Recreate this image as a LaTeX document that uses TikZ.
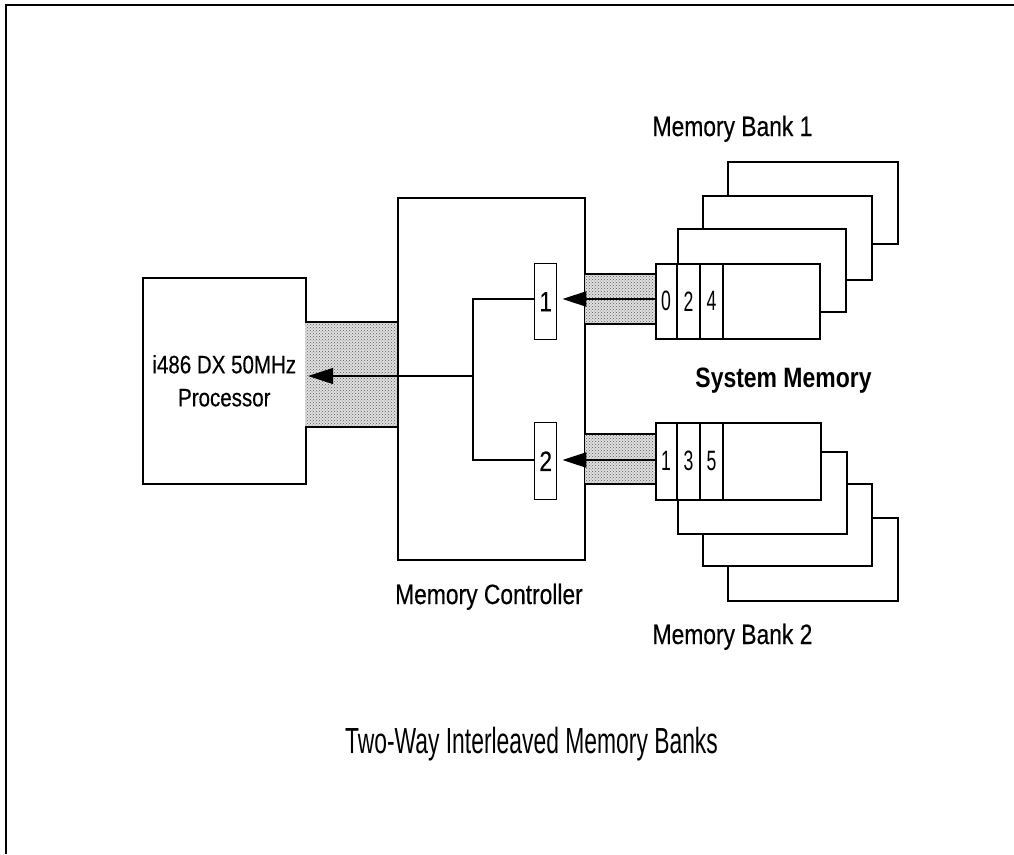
\documentclass[tikz,border=0pt]{standalone}
\usepackage{fontspec}
\setmainfont{Liberation Sans}
\newfontfamily\labfont[FakeStretch=0.815,FakeBold=0.3]{Liberation Sans}
\newfontfamily\boldfont[FakeStretch=0.82]{Liberation Sans Bold}
\newfontfamily\condfont[FakeStretch=0.63]{Liberation Sans}
\usetikzlibrary{arrows.meta,patterns}
\begin{document}
\begin{tikzpicture}[x=1pt,y=-1pt,
  box/.style={draw, line width=1.6pt, fill=white, rectangle, inner sep=0pt, anchor=north west},
  cellbox/.style={draw, line width=1.4pt, fill=white, rectangle, inner sep=0pt, anchor=north west,
     font=\labfont\fontsize{28}{28}\selectfont},
  busfill/.style={fill=black!12},
  busdots/.style={pattern=crosshatch dots, pattern color=black!65},
  busedge/.style={line width=1.5pt},
  wire/.style={line width=1.2pt},
  divider/.style={line width=1.3pt},
  bankarrow/.style={line width=2.4pt, -{Triangle[length=24pt,width=15pt]}, shorten >=5pt},
  procarrow/.style={line width=1.2pt, -{Triangle[length=25pt,width=16pt]}, shorten >=1.5pt},
  lab/.style={font=\labfont\fontsize{28}{30}\selectfont, anchor=base, inner sep=0pt},
  boldlab/.style={font=\boldfont\fontsize{28}{30}\selectfont, anchor=base, inner sep=0pt},
  titlelab/.style={font=\condfont\fontsize{36.3}{38}\selectfont, anchor=base, inner sep=0pt},
  dig/.style={font=\condfont\fontsize{28}{28}\selectfont, inner sep=0pt}
]
\useasboundingbox (0,0) rectangle (1014,854);
\fill[white] (0,0) rectangle (1014,854);
% frame
\draw[line width=2pt] (6,854) -- (6,5) -- (1014,5);

% processor
\node[box, minimum width=163pt, minimum height=206pt, align=center,
      font=\labfont\fontsize{25.2}{33}\selectfont] (proc) at (142,277)
      {i486 DX 50MHz\\Processor};
% memory controller
\node[box, minimum width=187pt, minimum height=362pt] (ctrl) at (397,197) {};
\node[cellbox, minimum width=22pt, minimum height=76pt] (r1) at (534,263) {1};
\node[cellbox, minimum width=22pt, minimum height=77pt] (r2) at (534,422) {2};
\node[lab] (ctrllab) at (489,604) {Memory Controller};

% memory bank 1 (stacked behind, going up-right)
\node[box, minimum width=170pt, minimum height=82pt] (b1d) at (727,161) {};
\node[box, minimum width=169pt, minimum height=84pt] (b1c) at (702,195) {};
\node[box, minimum width=168pt, minimum height=83pt] (b1b) at (677,228) {};
\node[box, minimum width=164pt, minimum height=75pt] (b1a) at (655,263) {};
\foreach \dx in {22,45,68}
  \draw[divider] ([xshift=\dx pt]b1a.north west) -- ([xshift=\dx pt]b1a.south west);
\node[dig] (d0) at ([xshift=11pt]b1a.west) {0};
\node[dig] (d2) at ([xshift=33.5pt]b1a.west) {2};
\node[dig] (d4) at ([xshift=56.5pt]b1a.west) {4};
\node[lab] (bank1lab) at (732.5,136) {Memory Bank 1};

% memory bank 2 (stacked behind, going down-right)
\node[box, minimum width=170pt, minimum height=83pt] (b2d) at (727,517) {};
\node[box, minimum width=169pt, minimum height=82pt] (b2c) at (702,483) {};
\node[box, minimum width=169pt, minimum height=82pt] (b2b) at (677,451) {};
\node[box, minimum width=165pt, minimum height=77pt] (b2a) at (655,422) {};
\foreach \dx in {22,45,68}
  \draw[divider] ([xshift=\dx pt]b2a.north west) -- ([xshift=\dx pt]b2a.south west);
\node[dig] (d1) at ([xshift=11pt]b2a.west) {1};
\node[dig] (d3) at ([xshift=33.5pt]b2a.west) {3};
\node[dig] (d5) at ([xshift=56.5pt]b2a.west) {5};
\node[lab] (bank2lab) at (732.5,644) {Memory Bank 2};

\node[boldlab] (sysmem) at (783.5,387) {System Memory};

% buses
\foreach \xa/\ya/\xb/\yb in {305/322/397/427, 585/274/655/324, 585/434/655/484} {
  \fill[busfill] (\xa,\ya) rectangle (\xb,\yb);
  \fill[busdots] (\xa,\ya) rectangle (\xb,\yb);
  \draw[busedge] (\xa,\ya) -- (\xb,\ya);
  \draw[busedge] (\xa,\yb) -- (\xb,\yb);
}

% connectors
\coordinate (p1) at (655,299);
\coordinate (p2) at (655,460);
\coordinate (j) at (473,376);
\draw[wire] (r1.west |- p1) -| (j) |- (r2.west |- p2);
\draw[procarrow] (j) -- (proc.east |- j);
\draw[bankarrow] (p1) -- (r1.east |- p1);
\draw[bankarrow] (p2) -- (r2.east |- p2);

% title
\node[titlelab] (title) at (531.5,753) {Two-Way Interleaved Memory Banks};
\end{tikzpicture}
\end{document}
